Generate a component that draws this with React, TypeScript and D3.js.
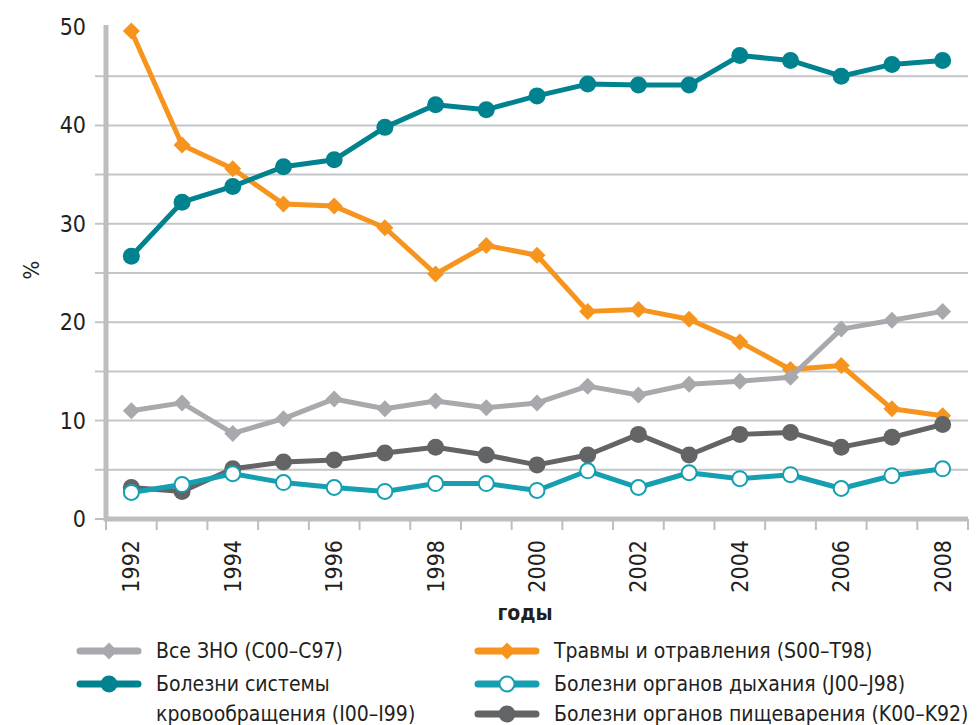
import * as d3 from "d3";
import { useEffect, useRef } from "react";

const years = [1992, 1993, 1994, 1995, 1996, 1997, 1998, 1999, 2000, 2001, 2002, 2003, 2004, 2005, 2006, 2007, 2008];

const allCancer = [11.0, 11.8, 8.7, 10.2, 12.2, 11.2, 12.0, 11.3, 11.8, 13.5, 12.6, 13.7, 14.0, 14.4, 19.3, 20.2, 21.1];
const injuries = [49.6, 38.0, 35.6, 32.0, 31.8, 29.6, 24.9, 27.8, 26.8, 21.1, 21.3, 20.3, 18.0, 15.2, 15.6, 11.2, 10.5];
const circulatory = [26.7, 32.2, 33.8, 35.8, 36.5, 39.8, 42.1, 41.6, 43.0, 44.2, 44.1, 44.1, 47.1, 46.6, 45.0, 46.2, 46.6];
const respiratory = [2.7, 3.5, 4.6, 3.7, 3.2, 2.8, 3.6, 3.6, 2.9, 4.9, 3.2, 4.7, 4.1, 4.5, 3.1, 4.4, 5.1];
const digestive = [3.2, 2.8, 5.1, 5.8, 6.0, 6.7, 7.3, 6.5, 5.5, 6.5, 8.6, 6.5, 8.6, 8.8, 7.3, 8.3, 9.6];

const yTicks = [0, 10, 20, 30, 40, 50];
const gridValues = [5, 10, 15, 20, 25, 30, 35, 40, 45];

interface Series {
  name: string[];
  values: number[];
  color: string;
  marker: "diamond" | "circle" | "open";
  legendCol: number;
  legendRow: number;
}

const series: Series[] = [
  { name: ["Травмы и отравления (S00–T98)"], values: injuries, color: "#f7941d", marker: "diamond", legendCol: 1, legendRow: 0 },
  { name: ["Болезни системы", "кровообращения (I00–I99)"], values: circulatory, color: "#00838f", marker: "circle", legendCol: 0, legendRow: 1 },
  { name: ["Все ЗНО (C00–C97)"], values: allCancer, color: "#a7a9ac", marker: "diamond", legendCol: 0, legendRow: 0 },
  { name: ["Болезни органов пищеварения (K00–K92)"], values: digestive, color: "#636466", marker: "circle", legendCol: 1, legendRow: 2 },
  { name: ["Болезни органов дыхания (J00–J98)"], values: respiratory, color: "#159fb0", marker: "open", legendCol: 1, legendRow: 1 },
];

const FONT = "'Liberation Sans Narrow', 'DejaVu Sans Condensed', 'Open Sans', sans-serif";

const drawMarker = (
  g: d3.Selection<SVGGElement, unknown, null, undefined>,
  kind: string,
  x: number,
  y: number,
  color: string
) => {
  if (kind === "diamond") {
    const s = 8.5;
    g.append("path")
      .attr("d", `M${x},${y - s}L${x + s},${y}L${x},${y + s}L${x - s},${y}Z`)
      .attr("fill", color);
  } else if (kind === "circle") {
    g.append("circle").attr("cx", x).attr("cy", y).attr("r", 8.5).attr("fill", color);
  } else {
    g.append("circle")
      .attr("cx", x)
      .attr("cy", y)
      .attr("r", 7.5)
      .attr("fill", "#fff")
      .attr("stroke", color)
      .attr("stroke-width", 2);
  }
};

const App = () => {
  const ref = useRef<SVGSVGElement | null>(null);

  useEffect(() => {
    const svg = d3.select(ref.current);
    svg.selectAll("*").remove();

    const width = 979;
    const height = 725;
    const margin = { top: 27, left: 106, right: 11, bottom: 206 };
    const plotW = width - margin.left - margin.right;
    const plotH = height - margin.top - margin.bottom;

    const x = d3
      .scaleBand<number>()
      .domain(years)
      .range([0, plotW]);
    const cx = (yr: number) => (x(yr) ?? 0) + x.bandwidth() / 2;

    const y = d3.scaleLinear().domain([0, 50]).range([plotH, 0]);

    const g = svg.append("g").attr("transform", `translate(${margin.left},${margin.top})`);

    // grid lines
    g.selectAll("line.grid")
      .data(gridValues)
      .enter()
      .append("line")
      .attr("x1", -11)
      .attr("x2", plotW)
      .attr("y1", (d) => y(d))
      .attr("y2", (d) => y(d))
      .attr("stroke", "#c4c5c8")
      .attr("stroke-width", 2);

    // y axis labels
    g.selectAll("text.ytick")
      .data(yTicks)
      .enter()
      .append("text")
      .attr("x", -20)
      .attr("y", (d) => y(d))
      .attr("dy", "0.35em")
      .attr("text-anchor", "end")
      .style("font-family", FONT)
      .style("font-size", "23px")
      .style("fill", "#231f20")
      .text((d) => d);

    g.append("line")
      .attr("x1", -11)
      .attr("x2", 0)
      .attr("y1", y(0))
      .attr("y2", y(0))
      .attr("stroke", "#bcbec0")
      .attr("stroke-width", 2);

    // x ticks at band edges
    const edges = years.map((yr) => x(yr) ?? 0).concat([plotW]);
    g.selectAll("line.xtick")
      .data(edges)
      .enter()
      .append("line")
      .attr("x1", (d) => d)
      .attr("x2", (d) => d)
      .attr("y1", plotH)
      .attr("y2", plotH + 11)
      .attr("stroke", "#bcbec0")
      .attr("stroke-width", 2);

    // axes lines
    g.append("line")
      .attr("x1", 0)
      .attr("x2", 0)
      .attr("y1", -2)
      .attr("y2", plotH + 2)
      .attr("stroke", "#bcbec0")
      .attr("stroke-width", 5);
    g.append("line")
      .attr("x1", -2)
      .attr("x2", plotW)
      .attr("y1", plotH)
      .attr("y2", plotH)
      .attr("stroke", "#bcbec0")
      .attr("stroke-width", 5);

    // x labels
    g.selectAll("text.xlab")
      .data(years.filter((yr) => yr % 2 === 0))
      .enter()
      .append("text")
      .attr("transform", (d) => `translate(${cx(d)},${plotH + 21}) rotate(-90)`)
      .attr("text-anchor", "end")
      .attr("dy", "0.35em")
      .style("font-family", FONT)
      .style("font-size", "23px")
      .style("fill", "#231f20")
      .text((d) => d);

    // axis titles
    svg
      .append("text")
      .attr("transform", `translate(31,270) rotate(-90)`)
      .attr("text-anchor", "middle")
      .attr("dy", "0.35em")
      .style("font-family", FONT)
      .style("font-size", "22px")
      .style("fill", "#231f20")
      .text("%");
    svg
      .append("text")
      .attr("x", 525)
      .attr("y", 620)
      .attr("text-anchor", "middle")
      .style("font-family", FONT)
      .style("font-size", "21px")
      .style("font-weight", "bold")
      .style("fill", "#231f20")
      .text("годы");

    // series
    const line = d3
      .line<number>()
      .x((_, i) => cx(years[i]))
      .y((d) => y(d));

    series.forEach((s) => {
      const sg = g.append("g");
      sg.append("path")
        .attr("d", line(s.values) ?? "")
        .attr("fill", "none")
        .attr("stroke", s.color)
        .attr("stroke-width", 5)
        .attr("stroke-linejoin", "round");
      s.values.forEach((v, i) => drawMarker(sg, s.marker, cx(years[i]), y(v), s.color));
    });

    // legend
    const legendX = [80, 478];
    const legendY = [651, 684, 714];
    series.forEach((s) => {
      const lx = legendX[s.legendCol];
      const ly = legendY[s.legendRow];
      const lg = svg.append("g");
      lg.append("line")
        .attr("x1", lx)
        .attr("x2", lx + 58)
        .attr("y1", ly)
        .attr("y2", ly)
        .attr("stroke", s.color)
        .attr("stroke-width", 7)
        .attr("stroke-linecap", "round");
      drawMarker(lg, s.marker, lx + 29, ly, s.color);
      s.name.forEach((t, k) => {
        lg.append("text")
          .attr("x", lx + 76)
          .attr("y", ly + k * 30)
          .attr("dy", "0.35em")
          .style("font-family", FONT)
          .style("font-size", "21px")
          .style("fill", "#231f20")
          .text(t);
      });
    });
  }, []);

  return (
    <svg
      ref={ref}
      width={979}
      height={725}
      style={{ position: "absolute", left: 0, top: 0, background: "#fff" }}
    ></svg>
  );
};

export default App;
